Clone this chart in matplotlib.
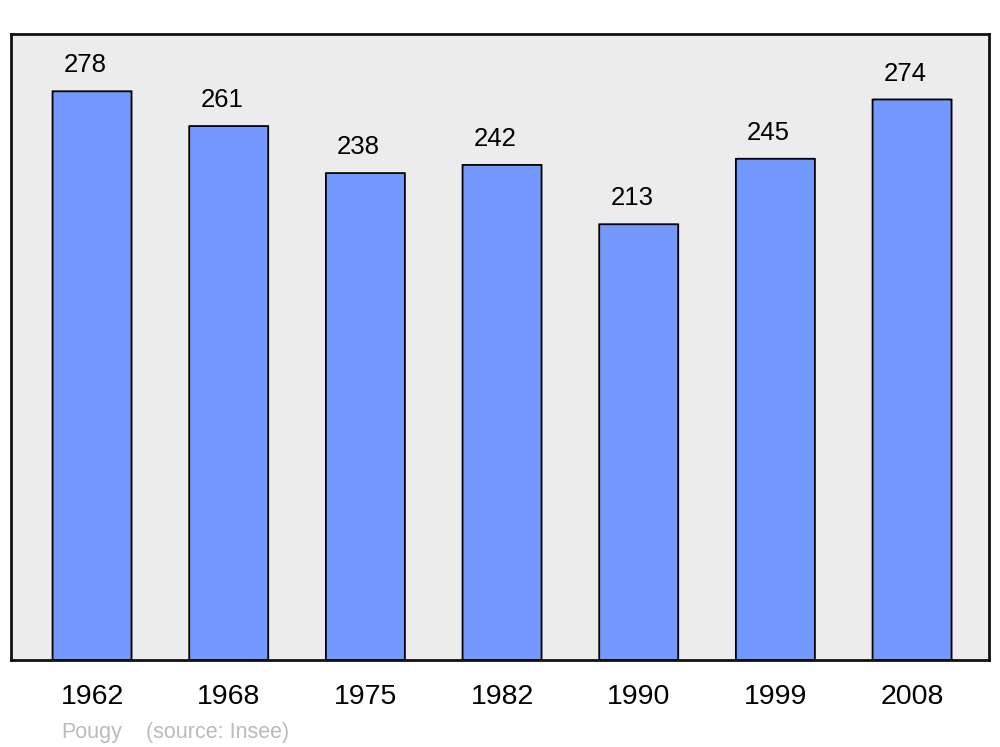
import matplotlib
matplotlib.use("Agg")
import matplotlib.pyplot as plt
from matplotlib.patches import FancyBboxPatch

years = ["1962", "1968", "1975", "1982", "1990", "1999", "2008"]
population = [278, 261, 238, 242, 213, 245, 274]
commune = "Pougy"
source = "(source: Insee)"

plt.rcParams["font.family"] = ["Liberation Sans", "DejaVu Sans"]

fig = plt.figure(figsize=(10, 7.47), dpi=100)
ax = fig.add_axes([0.011, 0.1165, 0.978, 0.838])
ax.set_facecolor("#ececec")

bar_w = 0.578
for i, v in enumerate(population):
    patch = FancyBboxPatch((i - bar_w / 2, 0), bar_w, v,
                           boxstyle="round,pad=0,rounding_size=0.02",
                           mutation_aspect=2.2,
                           facecolor="#7399ff", edgecolor="black", linewidth=1.3)
    ax.add_patch(patch)
    ax.annotate(str(v), (i, v), xytext=(-5, 10), textcoords="offset points",
                ha="center", va="bottom", fontsize=18.5)

ax.set_xlim(-0.593, len(years) - 1 + 0.563)
ax.set_ylim(0, 306)
ax.set_xticks(range(len(years)))
ax.set_xticklabels(years, fontsize=20.5)
ax.tick_params(axis="x", length=0, pad=17)
ax.set_yticks([])
for s in ax.spines.values():
    s.set_linewidth(2)
    s.set_color("#111111")

fig.text(0.061, 0.006, commune, color="#bbbbbb", fontsize=15.5, ha="left", va="bottom")
fig.text(0.146, 0.006, source, color="#bbbbbb", fontsize=15.5, ha="left", va="bottom")

fig.savefig("out.png", dpi=100)
